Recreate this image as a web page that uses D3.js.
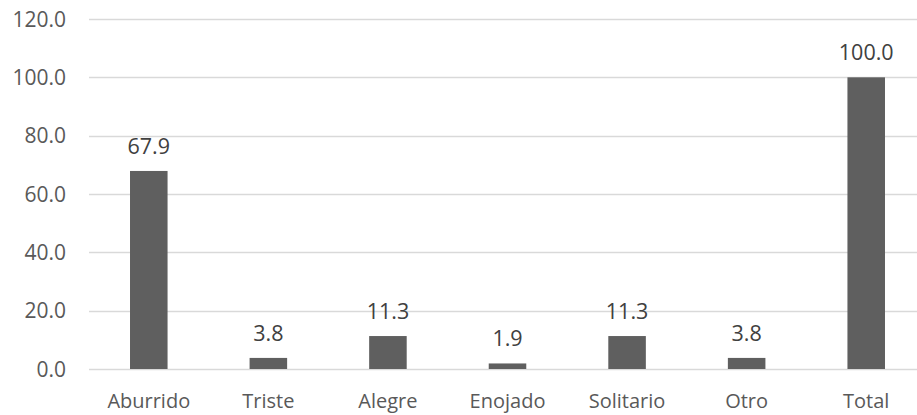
<!DOCTYPE html>
<html><head><meta charset="utf-8">
<script src="https://cdn.jsdelivr.net/npm/d3@7"></script>
<style>body{margin:0;background:#fff}svg{display:block}</style>
</head><body><svg id="c" width="917" height="415"></svg>
<script>
const categories = ["Aburrido","Triste","Alegre","Enojado","Solitario","Otro","Total"];
const values = [67.9,3.8,11.3,1.9,11.3,3.8,100.0];
const yTicks = [0,20,40,60,80,100,120];

const svg = d3.select("#c");
const font = "'Open Sans', sans-serif";
const x = d3.scaleBand().domain(categories).range([89, 926]).padding(0);
const y = d3.scaleLinear().domain([0,120]).range([369, 19]);
const barW = x.bandwidth()*0.314;

svg.append("g").selectAll("line").data(yTicks).join("line")
  .attr("x1", 89).attr("x2", 917)
  .attr("y1", d=>Math.round(y(d))+0.5).attr("y2", d=>Math.round(y(d))+0.5)
  .attr("stroke", "#d9d9d9").attr("stroke-width", 1.3);

svg.append("g").selectAll("text").data(yTicks).join("text")
  .attr("x", 66).attr("y", d=>y(d)).attr("dy","0.36em")
  .attr("text-anchor","end").attr("font-family",font).attr("font-size",21)
  .attr("fill","#595959").text(d=>d3.format(".1f")(d));

svg.append("g").selectAll("rect").data(values).join("rect")
  .attr("x",(d,i)=>x(categories[i])+x.bandwidth()/2-barW/2)
  .attr("width",barW)
  .attr("y",d=>y(d)).attr("height",d=>y(0)-y(d))
  .attr("fill","#5f5f5f");

svg.append("g").selectAll("text").data(values).join("text")
  .attr("x",(d,i)=>x(categories[i])+x.bandwidth()/2)
  .attr("y",d=>y(d)-17)
  .attr("text-anchor","middle").attr("font-family",font).attr("font-size",21.5)
  .attr("fill","#404040").text(d=>d3.format(".1f")(d));

svg.append("g").selectAll("text").data(categories).join("text")
  .attr("x",d=>x(d)+x.bandwidth()/2).attr("y",408)
  .attr("text-anchor","middle").attr("font-family",font).attr("font-size",20)
  .attr("fill","#595959").text(d=>d);
</script></body></html>
